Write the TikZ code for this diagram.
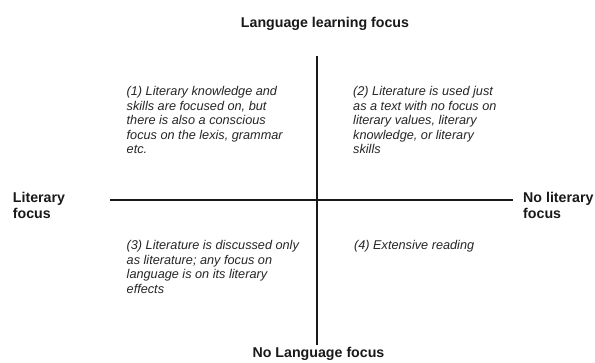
\documentclass[tikz,border=0pt]{standalone}
\usepackage{fontspec}
\setmainfont{Liberation Sans}
\begin{document}
\begin{tikzpicture}[x=1pt,y=-1pt,
  axis/.style={line width=2pt, draw=black!90},
  axislabel/.style={font=\bfseries\fontsize{14.2}{15.5}\selectfont, inner sep=0pt, align=left, text=black!90},
  quad/.style={font=\itshape\fontsize{12.7}{14.5}\selectfont, inner sep=0pt, align=left, anchor=base west, text=black!85}]
\useasboundingbox (0,0) rectangle (595,363);
\fill[white] (0,0) rectangle (595,363);
\coordinate (vtop) at (317,56);
\coordinate (vbot) at (317,345);
\coordinate (hleft) at (110,200);
\coordinate (hright) at (513,200);
\draw[axis] (vtop) -- (vbot);
\draw[axis] (hleft) -- (hright);
% multi-line nodes: base anchor is the baseline of the last line
\node[axislabel, anchor=base] (title) at (325,28) {Language learning focus};
\node[axislabel, anchor=base] (bottom) at (318.5,358) {No Language focus};
\node[axislabel, anchor=base west] (left) at (12.7,218.2) {Literary\\focus};
\node[axislabel, anchor=base west] (right) at (523,218.2) {No literary\\focus};
\node[quad] (q1) at (126.5,154) {(1) Literary knowledge and\\skills are focused on, but\\there is also a conscious\\focus on the lexis, grammar\\etc.};
\node[quad] (q2) at (353,154) {(2) Literature is used just\\as a text with no focus on\\literary values, literary\\knowledge, or literary\\skills};
\node[quad] (q3) at (126.5,293.5) {(3) Literature is discussed only\\as literature; any focus on\\language is on its literary\\effects};
\node[quad] (q4) at (354,250) {(4) Extensive reading};
\end{tikzpicture}
\end{document}
